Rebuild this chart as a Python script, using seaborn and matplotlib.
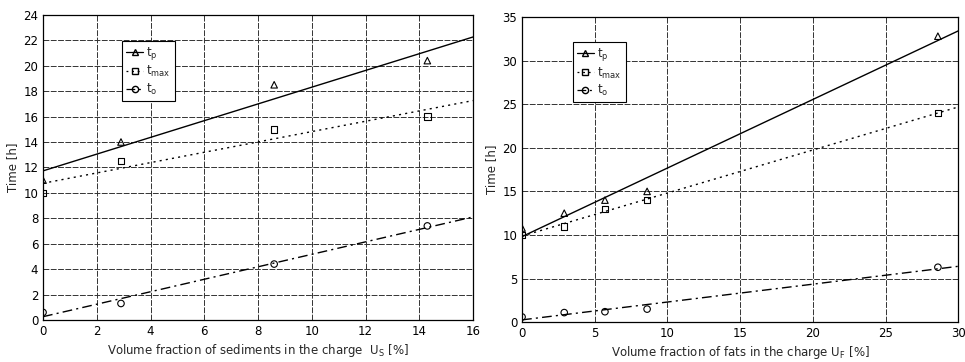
import numpy as np
import seaborn as sns
import matplotlib.pyplot as plt
from matplotlib.lines import Line2D

# -------------------------------
# Data
# -------------------------------
# left panel: sediments
us = [0, 2.9, 8.6, 14.3]
tp_s = [11.0, 14.0, 18.5, 20.4]
tmax_s = [10.0, 12.5, 15.0, 16.0]
to_s = [0.6, 1.3, 4.4, 7.4]

# right panel: fats
uf = [0, 2.9, 5.7, 8.6, 28.6]
tp_f = [10.8, 12.5, 14.0, 15.0, 32.8]
tmax_f = [10.0, 11.0, 13.0, 14.0, 24.0]
to_f = [0.6, 1.1, 1.2, 1.5, 6.3]

series_labels = ['$t_p$', '$t_{max}$', '$t_o$']
series_markers = ['^', 's', 'o']
series_styles = ['-', (0, (1.5, 3)), (0, (7, 3, 1.5, 3))]

sns.set_style('white')
plt.rcParams['font.family'] = ['DejaVu Sans']
plt.rcParams['mathtext.default'] = 'regular'

fig = plt.figure(figsize=(9.65, 3.62), dpi=100)
ax1 = fig.add_axes([0.0446, 0.116, 0.4456, 0.843])
ax2 = fig.add_axes([0.541, 0.110, 0.452, 0.843])


def draw_panel(ax, x, ys, xlim, xticks, ylim, yticks, xlabel, leg_anchor):
    ax.set_xlim(*xlim)
    ax.set_ylim(*ylim)
    for y, m, ls in zip(ys, series_markers, series_styles):
        sns.regplot(
            x=np.array(x), y=np.array(y), ax=ax, ci=None, truncate=False,
            marker=m, color='k',
            scatter_kws={'facecolors': 'none', 'edgecolors': 'k', 's': 22,
                         'linewidths': 0.8, 'alpha': 1, 'zorder': 3},
            line_kws={'linestyle': ls, 'linewidth': 1.0},
        )
    ax.set_xlim(*xlim)
    ax.set_ylim(*ylim)
    ax.set_xticks(xticks)
    ax.set_yticks(yticks)
    ax.grid(True, color='0.2', linestyle=(0, (6, 1.5)), linewidth=0.7)
    ax.set_axisbelow(True)
    for sp in ax.spines.values():
        sp.set_color('k')
        sp.set_linewidth(0.9)
    ax.tick_params(labelsize=8.5, direction='in', length=3, colors='k')
    ax.set_xlabel(xlabel, fontsize=8.5, labelpad=3)
    ax.set_ylabel('Time [h]', fontsize=8.5, labelpad=3)

    handles = [Line2D([], [], color='k', marker=m, linestyle=ls, linewidth=0.9,
                      markerfacecolor='none', markersize=4.5)
               for m, ls in zip(series_markers, series_styles)]
    leg = ax.legend(handles, series_labels, loc='upper left',
                    bbox_to_anchor=leg_anchor, fontsize=8.5, frameon=True,
                    fancybox=False, edgecolor='k', framealpha=1,
                    handlelength=1.4, handletextpad=0.3, labelspacing=0.2,
                    borderpad=0.35, borderaxespad=0)
    leg.get_frame().set_linewidth(0.8)


draw_panel(ax1, us, [tp_s, tmax_s, to_s], (0, 16), range(0, 17, 2),
           (0, 24), range(0, 25, 2),
           'Volume fraction of sediments in the charge  $U_S$ [%]',
           (0.184, 0.915))
draw_panel(ax2, uf, [tp_f, tmax_f, to_f], (0, 30), range(0, 31, 5),
           (0, 35), range(0, 36, 5),
           'Volume fraction of fats in the charge $U_F$ [%]',
           (0.117, 0.918))

fig.savefig('out.png', dpi=100)
